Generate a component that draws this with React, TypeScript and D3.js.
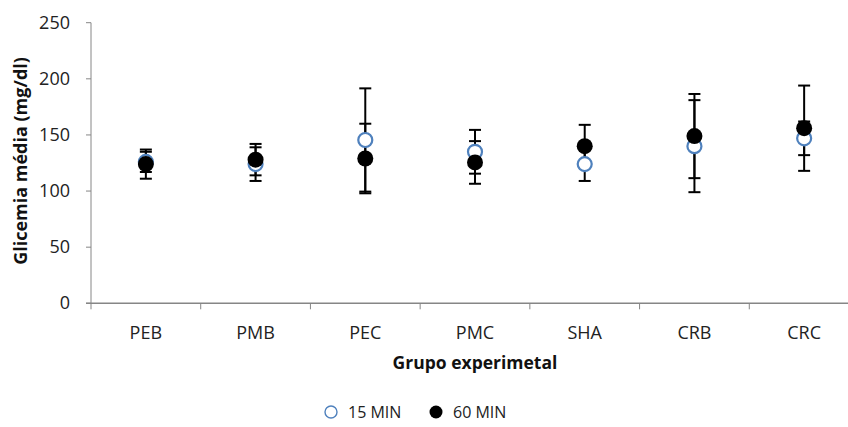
import React from "react";
import * as d3 from "d3";

const categories = ["PEB", "PMB", "PEC", "PMC", "SHA", "CRB", "CRC"];
const mean15 = [126, 124, 145.5, 135, 124, 140, 147];
const err15 = [9, 15, 46, 19.5, 15, 41, 15];
const mean60 = [124, 128, 129, 125.5, 140, 149, 156];
const err60 = [13, 14, 31, 19, 19, 37.5, 38];
const yTicks = [0, 50, 100, 150, 200, 250];

const W = 848, H = 427;
const M = { left: 91, top: 22.7, right: 859, bottom: 303.3 };
const FONT = "'Open Sans', 'Noto Sans', sans-serif";

export default function App() {
  const x = d3.scaleBand().domain(categories).range([M.left, M.right]).padding(0);
  const y = d3.scaleLinear().domain([0, 250]).range([M.bottom, M.top]);
  const cx = (c: string) => (x(c) as number) + x.bandwidth() / 2;
  const axisColor = "#868686";
  const capW = 6;

  const errBars = (means: number[], errs: number[], key: string) =>
    categories.map((c, i) => {
      const X = cx(c);
      const y1 = y(means[i] + errs[i]);
      const y0 = y(means[i] - errs[i]);
      return (
        <g key={key + c} stroke="#000" strokeWidth={2}>
          <line x1={X} x2={X} y1={y1} y2={y0} />
          <line x1={X - capW} x2={X + capW} y1={y1} y2={y1} />
          <line x1={X - capW} x2={X + capW} y1={y0} y2={y0} />
        </g>
      );
    });

  return (
    <svg width={W} height={H} style={{ position: "absolute", left: 0, top: 0, background: "#fff" }}>
      {/* y axis */}
      <line x1={M.left} x2={M.left} y1={M.top} y2={M.bottom} stroke={axisColor} strokeWidth={1} />
      {yTicks.map((t) => (
        <g key={t}>
          <line x1={M.left - 5} x2={M.left} y1={y(t)} y2={y(t)} stroke={axisColor} />
          <text x={70} y={y(t) + 6} textAnchor="end" fontFamily={FONT} fontSize={18} fill="#222">
            {t}
          </text>
        </g>
      ))}
      {/* x axis */}
      <line x1={M.left - 5} x2={W} y1={M.bottom} y2={M.bottom} stroke={axisColor} strokeWidth={1.5} />
      {categories.map((c) => (
        <line key={"t" + c} x1={x(c) as number} x2={x(c) as number} y1={M.bottom} y2={M.bottom + 6} stroke={axisColor} />
      ))}
      {categories.map((c) => (
        <text key={"l" + c} x={cx(c)} y={339} textAnchor="middle" fontFamily={FONT} fontSize={18} fill="#222">
          {c}
        </text>
      ))}
      <text x={(M.left + M.right) / 2} y={369} textAnchor="middle" fontFamily={FONT} fontSize={17.5} fontWeight="bold" fill="#111">
        Grupo experimetal
      </text>
      <text
        transform={`translate(27,161) rotate(-90)`}
        textAnchor="middle"
        fontFamily={FONT}
        fontSize={18}
        fontWeight="bold"
        fill="#111"
      >
        Glicemia média (mg/dl)
      </text>

      {/* error bars */}
      {errBars(mean15, err15, "a")}
      {errBars(mean60, err60, "b")}
      {/* markers */}
      {categories.map((c, i) => (
        <circle key={"m15" + c} cx={cx(c)} cy={y(mean15[i])} r={7} fill="#fff" stroke="#4F81BD" strokeWidth={2.2} />
      ))}
      {categories.map((c, i) => (
        <circle key={"m60" + c} cx={cx(c)} cy={y(mean60[i])} r={8} fill="#000" />
      ))}

      {/* legend */}
      <circle cx={331} cy={412} r={6} fill="#fff" stroke="#4F81BD" strokeWidth={1.4} />
      <text x={348} y={418} fontFamily={FONT} fontSize={16} fill="#222">15 MIN</text>
      <circle cx={436} cy={412} r={6.5} fill="#000" />
      <text x={453} y={418} fontFamily={FONT} fontSize={16} fill="#222">60 MIN</text>
    </svg>
  );
}
